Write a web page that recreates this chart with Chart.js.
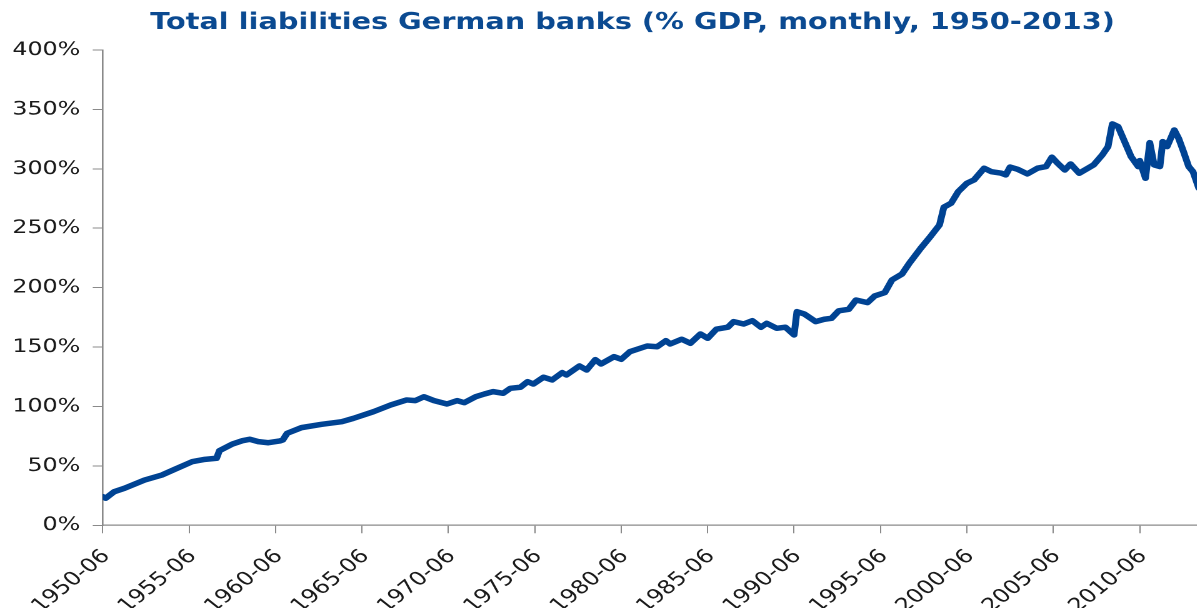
<!DOCTYPE html>
<html><head><meta charset="utf-8">
<script src="https://cdn.jsdelivr.net/npm/chart.js@4/dist/chart.umd.min.js"></script>
<style>
html,body{margin:0;padding:0;background:#fff;overflow:hidden;width:1197px;height:608px;}
#wrap{position:absolute;left:0;top:0;width:1012px;height:608px;transform:scaleX(1.25);transform-origin:0 0;}
canvas{display:block;}
</style></head><body>
<div id="wrap"><canvas id="c"></canvas></div>
<script>
const dates = ['1950-06','1950-08','1951-02','1951-09','1952-11','1953-11','1954-08','1955-08','1956-05','1957-01','1957-03','1957-12','1958-07','1958-12','1959-06','1960-01','1960-09','1960-11','1961-02','1961-12','1963-02','1964-04','1964-12','1966-02','1967-02','1968-01','1968-07','1969-01','1969-08','1970-05','1970-12','1971-05','1972-01','1972-07','1973-01','1973-08','1974-01','1974-08','1975-01','1975-05','1975-12','1976-06','1977-01','1977-04','1978-01','1978-06','1978-12','1979-04','1980-01','1980-06','1980-12','1981-12','1982-07','1983-01','1983-04','1983-12','1984-06','1985-01','1985-06','1985-12','1986-08','1986-12','1987-07','1988-01','1988-07','1988-11','1989-06','1989-12','1990-06','1990-08','1991-01','1991-09','1992-03','1992-08','1993-01','1993-08','1994-01','1994-09','1995-02','1995-09','1996-02','1996-09','1997-02','1997-10','1998-05','1998-11','1999-02','1999-07','1999-12','2000-06','2000-11','2001-06','2001-11','2002-06','2002-09','2002-12','2003-05','2003-12','2004-07','2005-01','2005-05','2005-09','2006-02','2006-06','2006-12','2007-06','2007-10','2008-04','2008-08','2008-11','2009-03','2009-07','2009-12','2010-05','2010-06','2010-10','2011-01','2011-04','2011-08','2011-10','2012-01','2012-06','2012-09','2012-12','2013-04','2013-07','2013-11'];
const liabilities = [24.1,22.8,28.3,31.1,38.1,42.3,47.1,53.5,55.5,56.4,62.8,68.4,71.2,72.4,70.4,69.5,71,71.8,77.4,82.2,85,87.2,90,95.6,101.3,105.5,104.9,108.2,104.9,102.1,104.9,103.2,108.2,110.5,112.5,111.1,115.3,116.2,120.9,118.9,124.6,122.3,128.5,126.5,134.1,130.7,139.4,135.8,141.9,139.7,146.1,150.9,150.3,155.4,152.6,156.6,153.2,161,157.4,165,166.7,171.4,169.4,172.2,166.7,170,165.8,166.7,160.2,179.8,177.9,171.4,173.4,174.2,180.5,181.8,189.6,187.4,193,195.8,206.5,211.5,220.5,233.2,243.5,252.8,267.7,271,280.8,287.9,290.7,300.5,297.6,296.3,294.9,301.5,299.7,295.7,300.5,301.9,309.8,304.7,299,304.1,296.3,300.5,303.3,311.7,318.7,337.8,335.5,324.3,310.3,301.9,306.9,292.1,322,303.3,301.9,322.9,318.7,332.7,325.7,315.9,301.9,297.6,283.7];
const xTickLabels = ['1950-06','1955-06','1960-06','1965-06','1970-06','1975-06','1980-06','1985-06','1990-06','1995-06','2000-06','2005-06','2010-06'];
const yTickValues = [0,50,100,150,200,250,300,350,400];
const titleText = 'Total liabilities German banks (% GDP, monthly, 1950-2013)';

function monthIndex(s){const p=s.split('-');return (parseInt(p[0],10)-1950)*12+(parseInt(p[1],10)-6);}
function labelFor(m){const y=1950+Math.floor((m+5)/12);const mo=((m+5)%12)+1;return y+'-'+String(mo).padStart(2,'0');}

const points = dates.map((d,i)=>({x:monthIndex(d),y:liabilities[i]}));
const canvas=document.getElementById('c');
canvas.width=1012;canvas.height=608;
const axisColor='#8a8a8a';
new Chart(canvas,{
  type:'line',
  data:{datasets:[{data:points,borderColor:'#004393',borderWidth:5.5,pointRadius:0,tension:0,borderJoinStyle:'round',borderCapStyle:'round',fill:false}]},
  options:{
    responsive:false,animation:false,devicePixelRatio:2,
    layout:{padding:{left:0,right:0,top:0,bottom:0}},
    plugins:{
      legend:{display:false},tooltip:{enabled:false},
      title:{display:true,text:titleText,color:'#0b4a91',font:{family:'DejaVu Sans',size:23,weight:'bold'},padding:{top:9,bottom:13.4}}
    },
    scales:{
      x:{type:'linear',min:0,max:807,
        afterFit:(s)=>{s.height=82.7;},
        afterBuildTicks:(s)=>{s.ticks=xTickLabels.map(l=>({value:monthIndex(l)}));},
        ticks:{autoSkip:false,minRotation:45,maxRotation:45,color:'#1a1a1a',font:{family:'DejaVu Sans',size:19},padding:12,labelOffset:3,callback:(v)=>labelFor(v)},
        grid:{display:true,drawOnChartArea:false,drawTicks:true,tickLength:8,color:axisColor,lineWidth:1},
        border:{display:true,color:axisColor,width:1.3}
      },
      y:{min:0,max:400,
        afterFit:(s)=>{s.width=82.2;},
        afterBuildTicks:(s)=>{s.ticks=yTickValues.map(v=>({value:v}));},
        ticks:{color:'#1a1a1a',font:{family:'DejaVu Sans',size:19},padding:10,callback:(v)=>v+'%'},
        grid:{display:true,drawOnChartArea:false,drawTicks:true,tickLength:8,color:axisColor,lineWidth:1},
        border:{display:true,color:axisColor,width:1.3}
      }
    }
  }
});
</script>
</body></html>
